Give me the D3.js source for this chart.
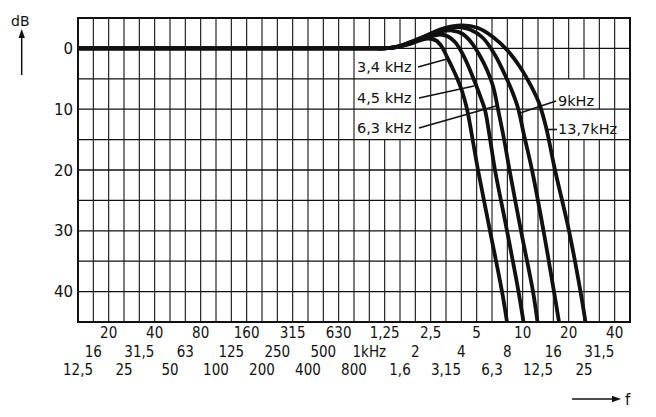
<!DOCTYPE html>
<html><head><meta charset="utf-8">
<script src="https://cdn.jsdelivr.net/npm/d3@7"></script>
<style>html,body{margin:0;padding:0;background:#fff;} svg{display:block}</style>
</head><body><svg id="c" width="656" height="417"></svg>
<script>
// third-octave band labels (index 0 = 12.5 Hz ... 35 = 40 kHz, 36 = 50 kHz edge)
const bandLabels = ["12,5","16","20","25","31,5","40","50","63","80","100","125","160","200","250","315","400","500","630","800","1kHz","1,25","1,6","2","2,5","3,15","4","5","6,3","8","10","12,5","16","20","25","31,5","40"];
const dbTicks = [0,10,20,30,40];
const curveNames = ["3,4 kHz","4,5 kHz","6,3 kHz","9kHz","13,7kHz"];

// frequency (Hz) and attenuation (dB, negative = boost)
const hz34 = [12.5,1000,1250,1484,1860,2163,2440,2752,3013,3249,3503,3777,4073,4391,4735,5183,6211,7442,8024];
const db34 = [0,0,0,-0.15,-0.72,-1.3,-1.63,-1.3,-0.23,1.41,3.06,4.87,7.01,9.97,14.41,20,30,40,45];
const hz45 = [12.5,1000,1250,1484,1860,2332,2923,3298,3665,4012,4391,4735,5029,5382,5760,6211,6696,8024,9542,10289];
const db45 = [0,0,0,-0.15,-0.81,-1.71,-2.29,-1.96,-1.05,0.43,2.4,4.38,6.02,7.99,10.13,14.9,20,30,40,45];
const hz63 = [12.5,1000,1250,1484,1860,2332,2923,3503,4073,4664,5342,5936,6497,7006,7669,8332,9909,11873,12706];
const db63 = [0,0,0,-0.2,-0.9,-1.9,-2.7,-2.94,-2.45,-1.05,1.25,3.55,6.18,9.97,14.9,20,30,40,45];
const hz90 = [12.5,1000,1250,1484,1860,2332,2923,3834,4594,5589,6696,7786,8652,9470,10367,11695,13908,16291,17566];
const db90 = [0,0,0,-0.2,-1.0,-2.0,-3.0,-3.52,-3.11,-1.71,1.09,4.38,7.01,9.8,14.24,20,30,40,45];
const hz137 = [12.5,1000,1250,1484,1860,2332,2923,4073,5183,6497,8146,9761,11521,12997,14440,16539,20422,24285,26187];
const db137 = [0,0,0,-0.2,-1.0,-2.0,-3.11,-3.77,-3.36,-1.88,0.43,3.06,6.18,8.98,12.93,20,30,40,45];

const curves = [[hz34,db34],[hz45,db45],[hz63,db63],[hz90,db90],[hz137,db137]];

const L = 78, R = 630, T = 18, B = 322;
const svg = d3.select("#c");
const xBand = d3.scaleLinear().domain([0, 36]).range([L, R]);
const xF = d3.scaleLog().domain([12.5, 51200]).range([L, R]);
const y = d3.scaleLinear().domain([-5, 45]).range([T, B]);
const ink = "#111";
const font = "'DejaVu Sans', sans-serif";

// vertical grid
svg.append("g").selectAll("line").data(d3.range(1, 36)).join("line")
  .attr("x1", d => xBand(d)).attr("x2", d => xBand(d))
  .attr("y1", T).attr("y2", B).attr("stroke", ink).attr("stroke-width", 1.1);

// white boxes behind inner labels (hide vertical lines)
const boxes = [[18, 22, 0, 15], [31, 34, 5, 10], [31, 35, 10, 15]];
svg.append("g").selectAll("rect").data(boxes).join("rect")
  .attr("x", d => xBand(d[0]) + 1).attr("width", d => xBand(d[1]) - xBand(d[0]) - 2)
  .attr("y", d => y(d[2])).attr("height", d => y(d[3]) - y(d[2]))
  .attr("fill", "#fff");

// horizontal grid
svg.append("g").selectAll("line").data(d3.range(0, 45, 5)).join("line")
  .attr("x1", L).attr("x2", R).attr("y1", d => y(d)).attr("y2", d => y(d))
  .attr("stroke", ink).attr("stroke-width", 1.3);

// frame
svg.append("rect").attr("x", L).attr("y", T).attr("width", R - L).attr("height", B - T)
  .attr("fill", "none").attr("stroke", ink).attr("stroke-width", 2);

// curves
const line = d3.line().x(d => xF(d[0])).y(d => y(d[1])).curve(d3.curveCatmullRom.alpha(0.5));
svg.append("defs").append("clipPath").attr("id", "clip")
  .append("rect").attr("x", L).attr("y", T).attr("width", R - L).attr("height", B - T);
svg.append("g").attr("clip-path", "url(#clip)").selectAll("path")
  .data(curves.map(c => c[0].map((f, i) => [f, c[1][i]]))).join("path")
  .attr("d", line).attr("fill", "none").attr("stroke", ink)
  .attr("stroke-width", 3.8).attr("stroke-linejoin", "round");

// inner labels with leaders
const lab = [
  {t: curveNames[0], x: 357, y: 72, lx1: 418, ly1: 67, lx2: 447, ly2: 59},
  {t: curveNames[1], x: 357, y: 103, lx1: 419, ly1: 98, lx2: 474, ly2: 86},
  {t: curveNames[2], x: 357, y: 133, lx1: 419, ly1: 128, lx2: 496, ly2: 106},
  {t: curveNames[3], x: 558, y: 106, lx1: 556, ly1: 101, lx2: 520, ly2: 113},
  {t: curveNames[4], x: 558, y: 134, lx1: 557, ly1: 129.5, lx2: 546, ly2: 129.5}
];
svg.append("g").selectAll("line").data(lab).join("line")
  .attr("x1", d => d.lx1).attr("y1", d => d.ly1).attr("x2", d => d.lx2).attr("y2", d => d.ly2)
  .attr("stroke", ink).attr("stroke-width", 1.6);
svg.append("g").selectAll("text").data(lab).join("text")
  .attr("x", d => d.x).attr("y", d => d.y).text(d => d.t)
  .attr("font-family", font).attr("font-size", 14.5).attr("fill", ink);

// y tick labels
svg.append("g").selectAll("text").data(dbTicks).join("text")
  .attr("x", 73).attr("y", d => y(d) + 5.5).attr("text-anchor", "end")
  .attr("font-family", font).attr("font-size", 15).attr("fill", ink).text(d => d);

// x tick labels (3 rows)
const rowY = [375, 356.5, 338];
svg.append("g").selectAll("text").data(bandLabels).join("text")
  .attr("x", (d, i) => xBand(i)).attr("y", (d, i) => rowY[i % 3])
  .attr("text-anchor", "middle").attr("font-family", "'DejaVu Sans Condensed', 'DejaVu Sans', sans-serif")
  .attr("font-stretch", "condensed")
  .attr("font-size", 15).attr("fill", ink).text(d => d);

// dB axis title + arrow
svg.append("text").attr("x", 11).attr("y", 26).text("dB")
  .attr("font-family", font).attr("font-size", 14).attr("fill", ink);
svg.append("line").attr("x1", 21.7).attr("x2", 21.7).attr("y1", 75).attr("y2", 36)
  .attr("stroke", ink).attr("stroke-width", 1.5);
svg.append("path").attr("d", "M21.7,29 L18.5,38 L24.9,38 Z").attr("fill", ink);

// f axis title + arrow
svg.append("line").attr("x1", 572).attr("x2", 614).attr("y1", 399).attr("y2", 399)
  .attr("stroke", ink).attr("stroke-width", 1.5);
svg.append("path").attr("d", "M621,399 L612,395.8 L612,402.2 Z").attr("fill", ink);
svg.append("text").attr("x", 625).attr("y", 405).text("f")
  .attr("font-family", font).attr("font-size", 15).attr("fill", ink);
</script></body></html>
